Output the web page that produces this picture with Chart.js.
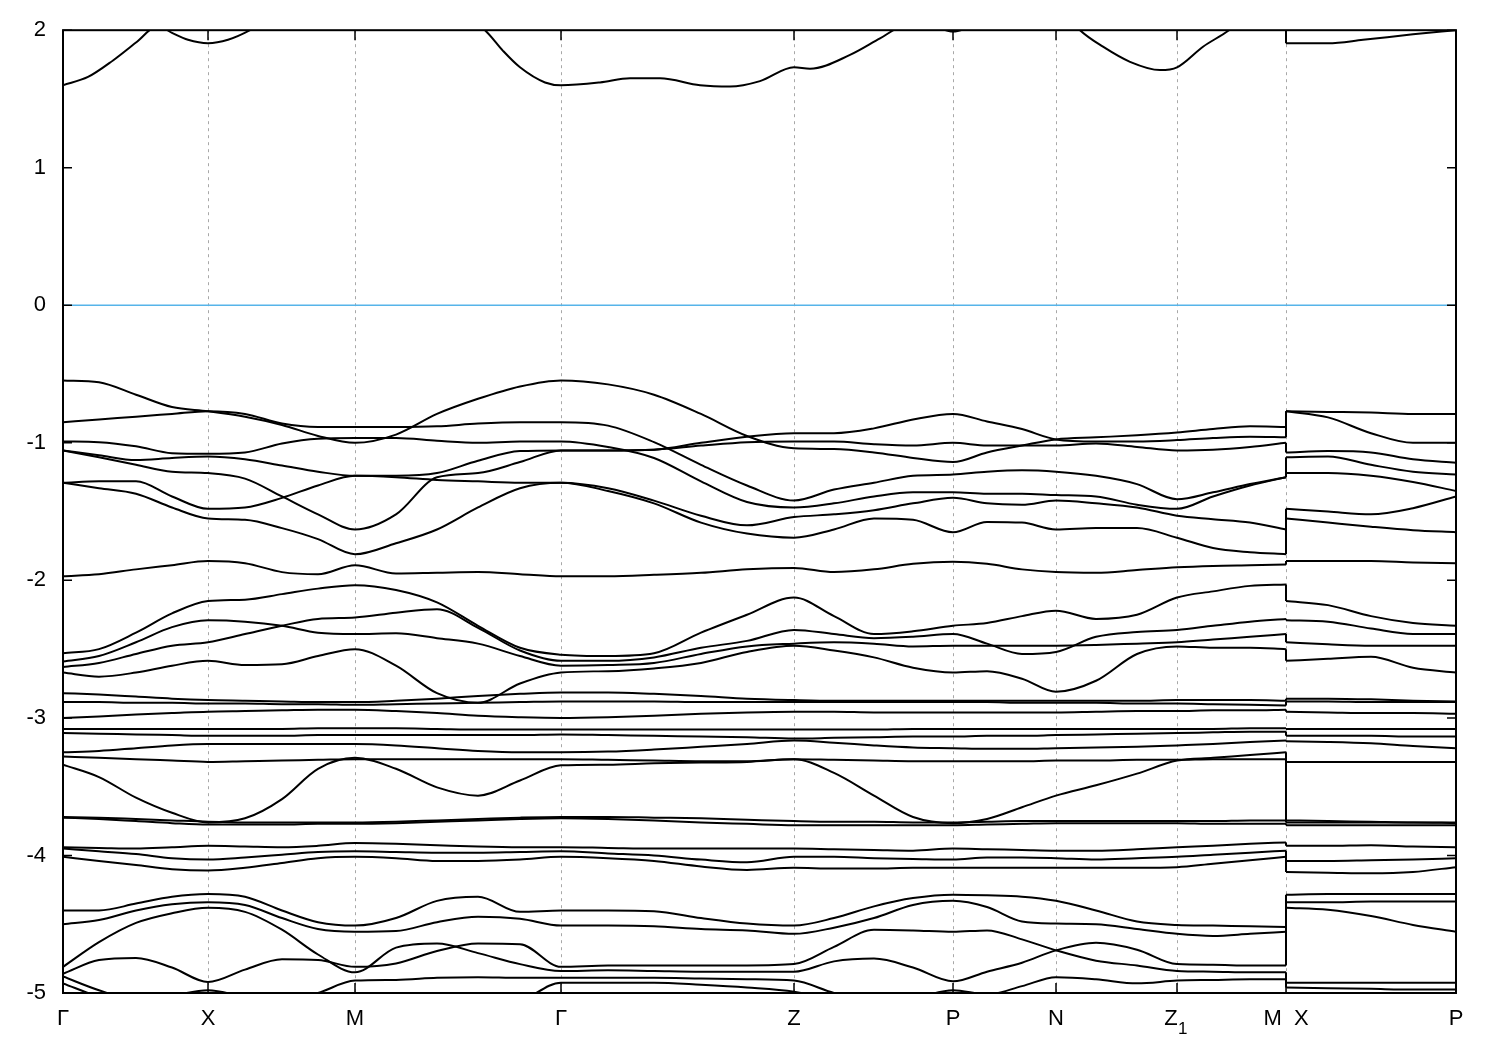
<!DOCTYPE html>
<html>
<head>
<meta charset="utf-8">
<script src="https://cdn.jsdelivr.net/npm/chart.js@4.4.1/dist/chart.umd.min.js"></script>
<style>
  html, body { margin: 0; padding: 0; background: #fff; }
  #wrap { width: 1500px; height: 1050px; }
</style>
</head>
<body>
<div id="wrap"><canvas id="bands" width="1500" height="1050"></canvas></div>
<script>
// high-symmetry points along the k-path (path length, arbitrary units)
const kTicks = [0, 145, 292, 498, 731, 890, 993, 1114, 1223, 1393];
const kLabels = ['Γ', 'X', 'M', 'Γ', 'Z', 'P', 'N', 'Z  ', 'M  X', 'P'];
const kSubs = ['', '', '', '', '', '', '', '1', '', ''];
const eTicks = [-5, -4, -3, -2, -1, 0, 1, 2];
const fermiE = 0;

// sample positions; index 31 is the end at M, index 32 the restart at X
const kPath = [0, 36, 73, 109, 145, 182, 219, 255, 292, 333, 374, 415, 457, 498,
  545, 591, 638, 684, 731, 771, 811, 850, 890, 924, 959, 993, 1033, 1074, 1114,
  1150, 1187, 1223, 1223, 1265, 1308, 1350, 1393];
const jumpAt = 31;

// lowest conduction band (mostly above the top of the window)
const cbK = [0, 25, 50, 73, 95, 109, 125, 145, 165, 187, 220, 292, 380, 422, 440, 457, 482, 498,
  537, 567, 597, 637, 667, 697, 731, 747, 787, 817, 840, 865, 890, 915, 960, 993,
  1017, 1040, 1067, 1097, 1114, 1140, 1166, 1190, 1223];
const cbE = [1.60, 1.66, 1.78, 1.91, 2.03, 1.98, 1.93, 1.905, 1.93, 2.0, 2.15, 2.3, 2.2, 2.0, 1.85, 1.73, 1.62, 1.60,
  1.62, 1.65, 1.65, 1.60, 1.59, 1.63, 1.73, 1.72, 1.82, 1.94, 2.03, 2.04, 1.99, 2.05, 2.15, 2.2,
  2.0, 1.88, 1.77, 1.71, 1.73, 1.88, 2.0, 2.15, 2.3];
const cbK2 = [1223, 1265, 1300, 1350, 1393];
const cbE2 = [1.905, 1.905, 1.93, 1.97, 2.0];

// valence bands, one value per kPath point
const vb01 = [-0.546, -0.56, -0.65, -0.74, -0.77, -0.81, -0.87, -0.95, -1.0, -0.94, -0.79, -0.68, -0.59, -0.546,
  -0.575, -0.65, -0.79, -0.95, -1.04, -1.045, -1.07, -1.11, -1.14, -1.07, -1.02, -0.975,
  -0.96, -0.945, -0.925, -0.90, -0.88, -0.885, -0.77, -0.775, -0.78, -0.79, -0.79];
const vb02 = [-0.85, -0.83, -0.81, -0.79, -0.77, -0.79, -0.86, -0.885, -0.885, -0.885, -0.88, -0.86, -0.85, -0.85,
  -0.875, -0.995, -1.16, -1.31, -1.42, -1.34, -1.29, -1.24, -1.23, -1.21, -1.20, -1.21,
  -1.24, -1.30, -1.41, -1.36, -1.30, -1.25, -1.105, -1.10, -1.16, -1.21, -1.23];
const vb03 = [-0.99, -0.995, -1.025, -1.075, -1.08, -1.07, -1.005, -0.97, -0.965, -0.965, -0.985, -1.0, -0.99, -0.99,
  -1.03, -1.11, -1.28, -1.43, -1.47, -1.44, -1.39, -1.36, -1.36, -1.37, -1.37, -1.38,
  -1.39, -1.45, -1.48, -1.39, -1.31, -1.25, -1.22, -1.22, -1.24, -1.285, -1.35];
const vb04 = [-1.055, -1.09, -1.125, -1.11, -1.10, -1.12, -1.165, -1.21, -1.24, -1.24, -1.22, -1.13, -1.06, -1.055,
  -1.055, -1.05, -1.0, -0.955, -0.93, -0.93, -0.895, -0.83, -0.79, -0.845, -0.90, -0.975,
  -0.99, -0.99, -0.98, -0.965, -0.955, -0.96, -0.77, -0.815, -0.93, -1.0, -1.0];
const vb05 = [-1.055, -1.105, -1.16, -1.21, -1.22, -1.26, -1.39, -1.52, -1.63, -1.52, -1.25, -1.22, -1.14, -1.055,
  -1.055, -1.05, -1.02, -0.995, -0.99, -0.99, -1.01, -1.02, -1.0, -1.02, -1.02, -1.02,
  -1.005, -1.03, -1.055, -1.05, -1.03, -1.0, -1.07, -1.06, -1.07, -1.12, -1.145];
const vb06 = [-1.29, -1.28, -1.28, -1.39, -1.48, -1.47, -1.40, -1.31, -1.24, -1.25, -1.27, -1.28, -1.29, -1.29,
  -1.33, -1.42, -1.53, -1.60, -1.54, -1.52, -1.49, -1.44, -1.40, -1.44, -1.45, -1.42,
  -1.44, -1.47, -1.53, -1.555, -1.58, -1.63, -1.48, -1.50, -1.52, -1.475, -1.39];
const vb07 = [-1.29, -1.33, -1.37, -1.47, -1.55, -1.56, -1.62, -1.70, -1.81, -1.73, -1.63, -1.47, -1.33, -1.29,
  -1.35, -1.44, -1.58, -1.66, -1.69, -1.63, -1.55, -1.56, -1.65, -1.575, -1.58, -1.63,
  -1.62, -1.62, -1.69, -1.765, -1.795, -1.81, -1.55, -1.58, -1.61, -1.635, -1.65];
const vb08 = [-1.97, -1.955, -1.92, -1.89, -1.86, -1.875, -1.94, -1.955, -1.89, -1.95, -1.945, -1.94, -1.955, -1.97,
  -1.97, -1.96, -1.945, -1.92, -1.91, -1.94, -1.92, -1.88, -1.865, -1.88, -1.92, -1.94,
  -1.945, -1.925, -1.905, -1.895, -1.89, -1.885, -1.86, -1.86, -1.86, -1.87, -1.875];
const vb09 = [-2.53, -2.50, -2.38, -2.24, -2.15, -2.14, -2.10, -2.06, -2.035, -2.07, -2.16, -2.33, -2.49, -2.54,
  -2.55, -2.53, -2.38, -2.25, -2.125, -2.26, -2.39, -2.37, -2.33, -2.31, -2.26, -2.22,
  -2.28, -2.25, -2.125, -2.08, -2.04, -2.03, -2.15, -2.18, -2.26, -2.31, -2.33];
const vb10 = [-2.63, -2.60, -2.535, -2.475, -2.45, -2.39, -2.33, -2.28, -2.27, -2.235, -2.21, -2.345, -2.51, -2.585,
  -2.585, -2.56, -2.49, -2.44, -2.36, -2.39, -2.42, -2.41, -2.39, -2.46, -2.535, -2.52,
  -2.41, -2.375, -2.36, -2.33, -2.30, -2.28, -2.29, -2.30, -2.35, -2.39, -2.39];
const vb11 = [-2.59, -2.55, -2.45, -2.34, -2.29, -2.30, -2.33, -2.38, -2.39, -2.385, -2.42, -2.46, -2.55, -2.62,
  -2.615, -2.60, -2.535, -2.48, -2.46, -2.45, -2.46, -2.48, -2.475, -2.475, -2.475, -2.475,
  -2.47, -2.46, -2.45, -2.43, -2.41, -2.39, -2.45, -2.465, -2.475, -2.475, -2.475];
const vb12 = [-2.67, -2.70, -2.67, -2.62, -2.585, -2.615, -2.61, -2.55, -2.50, -2.62, -2.82, -2.89, -2.75, -2.67,
  -2.66, -2.64, -2.60, -2.52, -2.475, -2.51, -2.56, -2.635, -2.67, -2.66, -2.715, -2.81,
  -2.73, -2.535, -2.48, -2.49, -2.49, -2.50, -2.585, -2.57, -2.555, -2.635, -2.67];
const vb13 = [-2.82, -2.83, -2.845, -2.86, -2.87, -2.875, -2.88, -2.885, -2.885, -2.875, -2.86, -2.84, -2.825, -2.815,
  -2.815, -2.825, -2.84, -2.86, -2.87, -2.875, -2.875, -2.875, -2.875, -2.875, -2.875, -2.875,
  -2.875, -2.875, -2.87, -2.87, -2.87, -2.875, -2.86, -2.86, -2.865, -2.875, -2.88];
const vb14 = [-2.885, -2.885, -2.89, -2.89, -2.895, -2.895, -2.9, -2.9, -2.905, -2.9, -2.895, -2.89, -2.885, -2.88,
  -2.88, -2.88, -2.885, -2.885, -2.885, -2.885, -2.885, -2.885, -2.885, -2.885, -2.89, -2.89,
  -2.89, -2.895, -2.895, -2.9, -2.905, -2.91, -2.88, -2.88, -2.885, -2.885, -2.885];
const vb15 = [-3.0, -2.99, -2.975, -2.965, -2.955, -2.95, -2.945, -2.94, -2.94, -2.95, -2.965, -2.985, -2.995, -3.0,
  -2.995, -2.985, -2.97, -2.96, -2.955, -2.955, -2.96, -2.96, -2.96, -2.96, -2.96, -2.96,
  -2.955, -2.95, -2.95, -2.945, -2.945, -2.94, -2.955, -2.96, -2.965, -2.965, -2.97];
const vb16 = [-3.08, -3.08, -3.08, -3.08, -3.08, -3.08, -3.08, -3.075, -3.075, -3.075, -3.08, -3.085, -3.085, -3.085,
  -3.085, -3.085, -3.085, -3.085, -3.085, -3.085, -3.085, -3.08, -3.08, -3.08, -3.08, -3.08,
  -3.08, -3.08, -3.08, -3.08, -3.075, -3.075, -3.08, -3.08, -3.08, -3.08, -3.08];
const vb17 = [-3.11, -3.115, -3.12, -3.125, -3.13, -3.13, -3.13, -3.125, -3.125, -3.125, -3.125, -3.125, -3.125, -3.12,
  -3.125, -3.13, -3.135, -3.14, -3.15, -3.145, -3.14, -3.135, -3.135, -3.13, -3.13, -3.125,
  -3.12, -3.115, -3.11, -3.105, -3.10, -3.10, -3.13, -3.13, -3.13, -3.135, -3.135];
const vb18 = [-3.25, -3.24, -3.22, -3.20, -3.19, -3.19, -3.19, -3.19, -3.19, -3.20, -3.22, -3.24, -3.25, -3.25,
  -3.245, -3.23, -3.21, -3.19, -3.165, -3.18, -3.20, -3.215, -3.22, -3.225, -3.225, -3.22,
  -3.215, -3.21, -3.20, -3.19, -3.175, -3.165, -3.17, -3.175, -3.185, -3.205, -3.22];
const vb19 = [-3.28, -3.29, -3.30, -3.31, -3.32, -3.315, -3.31, -3.305, -3.30, -3.30, -3.30, -3.30, -3.30, -3.30,
  -3.305, -3.31, -3.315, -3.315, -3.30, -3.305, -3.31, -3.315, -3.315, -3.315, -3.315, -3.31,
  -3.31, -3.305, -3.305, -3.30, -3.30, -3.30, -3.745, -3.75, -3.755, -3.76, -3.76];
const vb20 = [-3.34, -3.43, -3.58, -3.69, -3.76, -3.73, -3.59, -3.37, -3.29, -3.37, -3.505, -3.565, -3.455, -3.345,
  -3.34, -3.33, -3.325, -3.32, -3.30, -3.40, -3.565, -3.72, -3.765, -3.735, -3.65, -3.565,
  -3.49, -3.405, -3.31, -3.29, -3.27, -3.25, -3.32, -3.32, -3.32, -3.32, -3.32];
const vb21 = [-3.72, -3.725, -3.735, -3.745, -3.755, -3.76, -3.76, -3.76, -3.76, -3.755, -3.745, -3.735, -3.725, -3.72,
  -3.72, -3.725, -3.73, -3.74, -3.75, -3.755, -3.755, -3.76, -3.76, -3.755, -3.75, -3.75,
  -3.75, -3.75, -3.75, -3.75, -3.745, -3.745, -3.76, -3.76, -3.76, -3.76, -3.765];
const vb22 = [-3.725, -3.735, -3.75, -3.765, -3.775, -3.775, -3.775, -3.77, -3.77, -3.765, -3.755, -3.745, -3.735, -3.73,
  -3.735, -3.745, -3.76, -3.77, -3.78, -3.78, -3.78, -3.78, -3.78, -3.775, -3.77, -3.765,
  -3.765, -3.765, -3.765, -3.77, -3.77, -3.77, -3.78, -3.78, -3.78, -3.78, -3.78];
const vb23 = [-3.94, -3.945, -3.95, -3.94, -3.93, -3.935, -3.94, -3.93, -3.91, -3.915, -3.925, -3.935, -3.94, -3.94,
  -3.945, -3.95, -3.95, -3.95, -3.95, -3.955, -3.96, -3.965, -3.95, -3.955, -3.96, -3.965,
  -3.965, -3.955, -3.94, -3.93, -3.915, -3.905, -3.93, -3.93, -3.925, -3.935, -3.94];
const vb24 = [-3.95, -3.97, -3.99, -4.02, -4.03, -4.015, -3.995, -3.975, -3.97, -3.975, -3.98, -3.98, -3.975, -3.97,
  -3.985, -4.00, -4.03, -4.05, -4.01, -4.01, -4.02, -4.025, -4.03, -4.015, -4.015, -4.02,
  -4.03, -4.02, -4.01, -3.995, -3.98, -3.965, -4.04, -4.04, -4.035, -4.03, -4.02];
const vb25 = [-4.01, -4.04, -4.07, -4.10, -4.11, -4.09, -4.055, -4.02, -4.01, -4.02, -4.04, -4.04, -4.03, -4.01,
  -4.02, -4.04, -4.08, -4.105, -4.09, -4.095, -4.095, -4.09, -4.09, -4.09, -4.09, -4.09,
  -4.09, -4.09, -4.085, -4.06, -4.035, -4.01, -4.12, -4.125, -4.13, -4.12, -4.085];
const vb26 = [-4.40, -4.40, -4.35, -4.30, -4.28, -4.30, -4.40, -4.485, -4.51, -4.455, -4.33, -4.30, -4.41, -4.40,
  -4.40, -4.405, -4.455, -4.495, -4.51, -4.455, -4.37, -4.31, -4.285, -4.29, -4.30, -4.33,
  -4.40, -4.48, -4.505, -4.51, -4.515, -4.52, -4.285, -4.28, -4.28, -4.28, -4.28];
const vb27 = [-4.50, -4.47, -4.40, -4.355, -4.34, -4.36, -4.455, -4.535, -4.555, -4.55, -4.485, -4.445, -4.46, -4.51,
  -4.51, -4.515, -4.535, -4.545, -4.57, -4.525, -4.455, -4.36, -4.33, -4.375, -4.48, -4.495,
  -4.50, -4.535, -4.57, -4.585, -4.57, -4.555, -4.34, -4.34, -4.335, -4.335, -4.335];
const vb28 = [-4.81, -4.63, -4.49, -4.42, -4.38, -4.41, -4.54, -4.72, -4.85, -4.67, -4.64, -4.71, -4.79, -4.84,
  -4.835, -4.84, -4.845, -4.845, -4.845, -4.77, -4.75, -4.815, -4.915, -4.845, -4.78, -4.69,
  -4.635, -4.685, -4.79, -4.795, -4.80, -4.80, -4.38, -4.395, -4.44, -4.505, -4.555];
const vb29 = [-4.86, -4.76, -4.745, -4.815, -4.92, -4.83, -4.755, -4.76, -4.81, -4.785, -4.695, -4.64, -4.645, -4.81,
  -4.80, -4.80, -4.80, -4.80, -4.79, -4.665, -4.54, -4.545, -4.555, -4.545, -4.61, -4.69,
  -4.765, -4.80, -4.84, -4.845, -4.85, -4.85, -4.925, -4.925, -4.925, -4.925, -4.925];
const vb30 = [-4.88, -4.98, -5.05, -5.02, -4.98, -5.03, -5.07, -5.0, -4.91, -4.905, -4.89, -4.885, -4.89, -4.89,
  -4.89, -4.89, -4.895, -4.90, -4.91, -5.0, -5.06, -5.04, -4.98, -5.01, -4.95, -4.885,
  -4.90, -4.93, -4.91, -4.905, -4.90, -4.90, -4.96, -4.965, -4.97, -4.975, -4.975];
const vb31 = [-4.93, -5.03, -5.12, -5.15, -5.15, -5.15, -5.15, -5.12, -5.10, -5.10, -5.10, -5.10, -5.06, -4.925,
  -4.925, -4.925, -4.94, -4.96, -4.99, -5.05, -5.10, -5.10, -5.08, -5.08, -5.06, -5.04,
  -5.04, -5.05, -5.05, -5.05, -5.05, -5.05, -5.05, -5.05, -5.05, -5.05, -5.05];

const valence = [vb01, vb02, vb03, vb04, vb05, vb06, vb07, vb08, vb09, vb10, vb11, vb12, vb13, vb14, vb15, vb16,
  vb17, vb18, vb19, vb20, vb21, vb22, vb23, vb24, vb25, vb26, vb27, vb28, vb29, vb30, vb31];

function lineSet(points, smooth, color, width) {
  return {
    data: points,
    borderColor: color || '#000',
    borderWidth: width || 2,
    pointRadius: 0,
    fill: false,
    tension: 0,
    cubicInterpolationMode: smooth ? 'monotone' : 'default'
  };
}

function pairs(ks, es) {
  return ks.map((k, i) => ({x: k, y: es[i]}));
}

const datasets = [];
datasets.push(lineSet([{x: kTicks[0], y: fermiE}, {x: kTicks[kTicks.length - 1], y: fermiE}], false, '#56b4e9', 1.5));

// conduction band: left part, jump at M|X, right part
const cbLeft = pairs(cbK, cbE);
const cbRight = pairs(cbK2, cbE2);
datasets.push(lineSet(cbLeft, true));
datasets.push(lineSet([cbLeft[cbLeft.length - 1], cbRight[0]], false));
datasets.push(lineSet(cbRight, true));

valence.forEach(band => {
  const all = pairs(kPath, band);
  const left = all.slice(0, jumpAt + 1);
  const right = all.slice(jumpAt + 1);
  datasets.push(lineSet(left, true));
  datasets.push(lineSet([left[left.length - 1], right[0]], false));
  datasets.push(lineSet(right, true));
});

// frame, inward tick marks and label subscripts like gnuplot
const frame = {
  id: 'frame',
  afterDraw(chart) {
    const ctx = chart.ctx;
    const a = chart.chartArea;
    const x = chart.scales.x;
    const y = chart.scales.y;
    ctx.save();
    ctx.strokeStyle = '#000';
    ctx.lineWidth = 1.5;
    ctx.beginPath();
    kTicks.forEach(v => {
      const px = x.getPixelForValue(v);
      ctx.moveTo(px, a.bottom);
      ctx.lineTo(px, a.bottom - 10);
      ctx.moveTo(px, a.top);
      ctx.lineTo(px, a.top + 10);
    });
    eTicks.forEach(v => {
      const py = y.getPixelForValue(v);
      ctx.moveTo(a.left, py);
      ctx.lineTo(a.left + 9, py);
      ctx.moveTo(a.right, py);
      ctx.lineTo(a.right - 9, py);
    });
    ctx.stroke();
    ctx.lineWidth = 2;
    ctx.strokeRect(a.left, a.top, a.right - a.left, a.bottom - a.top);

    ctx.fillStyle = '#000';
    ctx.font = '17px "Liberation Sans", Arial, sans-serif';
    ctx.textAlign = 'left';
    ctx.textBaseline = 'alphabetic';
    kSubs.forEach((s, i) => {
      if (s) ctx.fillText(s, x.getPixelForValue(kTicks[i]) + 1, a.bottom + 41);
    });
    ctx.restore();
  }
};

Chart.defaults.font.family = '"Liberation Sans", Arial, sans-serif';
Chart.defaults.font.size = 22;
Chart.defaults.color = '#000';

new Chart(document.getElementById('bands'), {
  type: 'line',
  data: { datasets: datasets },
  options: {
    responsive: false,
    animation: false,
    devicePixelRatio: 1,
    layout: { padding: { left: 0, right: 44, top: 28, bottom: 0 } },
    plugins: { legend: { display: false }, tooltip: { enabled: false } },
    events: [],
    scales: {
      x: {
        type: 'linear',
        min: kTicks[0],
        max: kTicks[kTicks.length - 1],
        afterBuildTicks: s => { s.ticks = kTicks.map(v => ({ value: v })); },
        afterFit: s => { s.height = 57; },
        ticks: {
          autoSkip: false,
          maxRotation: 0,
          minRotation: 0,
          padding: 13,
          callback: (v, i) => kLabels[i]
        },
        grid: {
          drawTicks: false,
          lineWidth: 1,
          color: c => (c.index === 0 || c.index === kTicks.length - 1) ? 'rgba(0,0,0,0)' : '#a8a8a8'
        },
        border: { display: false, dash: [3, 4] }
      },
      y: {
        min: -5,
        max: 2,
        afterBuildTicks: s => { s.ticks = eTicks.map(v => ({ value: v })); },
        afterFit: s => { s.width = 63; },
        ticks: { padding: 17 },
        grid: { display: false, drawTicks: false },
        border: { display: false }
      }
    }
  },
  plugins: [frame]
});
</script>
</body>
</html>
